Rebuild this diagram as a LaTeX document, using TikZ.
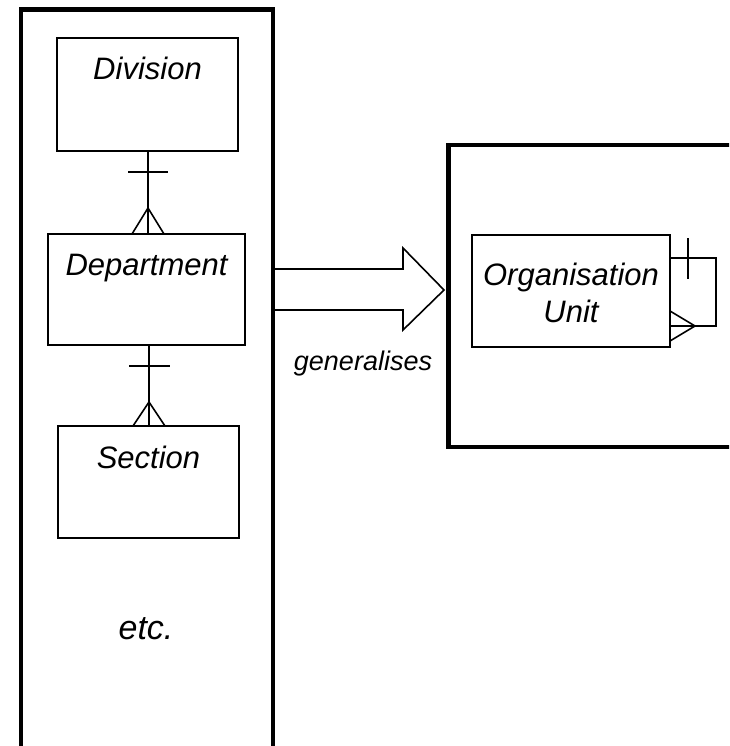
\documentclass[tikz,border=0pt]{standalone}
\usepackage{fontspec}
\setmainfont{Liberation Sans}
\begin{document}
\begin{tikzpicture}[x=1pt,y=-1pt,
  container/.style={draw, line width=4.5pt, rectangle, inner sep=0pt},
  entity/.style={draw, line width=2pt, rectangle, inner sep=0pt, fill=white},
  etext/.style={anchor=base, inner sep=0pt, font=\fontsize{31}{36}\selectfont\itshape},
  gtext/.style={anchor=base, inner sep=0pt, font=\fontsize{27}{31}\selectfont\itshape},
  rel/.style={line width=1.6pt},
  bigarrow/.style={draw, line width=1.6pt, fill=white, line join=miter}
]
\useasboundingbox (0,0) rectangle (729,746);
\clip (0,0) rectangle (729,746);

% big generalisation arrow
\coordinate (a1) at (272,269);
\coordinate (a2) at (403,269);
\coordinate (a3) at (403,248);
\coordinate (a4) at (444,290);
\coordinate (a5) at (403,330);
\coordinate (a6) at (403,310);
\coordinate (a7) at (272,310);
\draw[bigarrow] (a1) -- (a2) -- (a3) -- (a4) -- (a5) -- (a6) -- (a7);

% containers
\node[container, minimum width=252pt, minimum height=750pt] (leftc) at (147,384.75) {};
\node[container, minimum width=311.5pt, minimum height=302pt] (rightc) at (604.25,296) {};

% entities
\node[entity, minimum width=181pt, minimum height=113pt] (div) at (147.5,94.5) {};
\node[etext] (divt) at (147.5,80) {Division};
\node[entity, minimum width=197pt, minimum height=111pt] (dep) at (146.5,289.5) {};
\node[etext] (dept) at (146.5,275) {Department};
\node[entity, minimum width=181pt, minimum height=112pt] (sec) at (148.5,482) {};
\node[etext] (sect) at (148.5,468) {Section};
\node[etext, font=\fontsize{34}{40}\selectfont\itshape] (etc) at (146,639) {etc.};

\node[entity, minimum width=198pt, minimum height=112pt] (ou) at (571,291) {};
\node[etext] (out1) at (571,285) {Organisation};
\node[etext] (out2) at (571,322) {Unit};

\node[gtext] (gen) at (363,370) {generalises};

% Division -- Department
\coordinate (r1s) at (148,151);
\coordinate (r1e) at (148,234);
\draw[rel] (r1s) -- (r1e);
\draw[rel] (128,172) -- (168,172);
\draw[rel] (132,234) -- (148,208) -- (164,234);

% Department -- Section
\coordinate (r2s) at (149,345);
\coordinate (r2e) at (149,426);
\draw[rel] (r2s) -- (r2e);
\draw[rel] (129,366) -- (170,366);
\draw[rel] (133,426) -- (149,402) -- (165,426);

% self loop on Organisation Unit
\coordinate (l1) at (670,258);
\coordinate (l2) at (716,258);
\coordinate (l3) at (716,326);
\coordinate (l4) at (670,326);
\draw[rel] (l1) -- (l2) -- (l3) -- (l4);
\draw[rel] (688,238) -- (688,279);
\draw[rel] (670,311) -- (695,326) -- (670,341);
\end{tikzpicture}
\end{document}
